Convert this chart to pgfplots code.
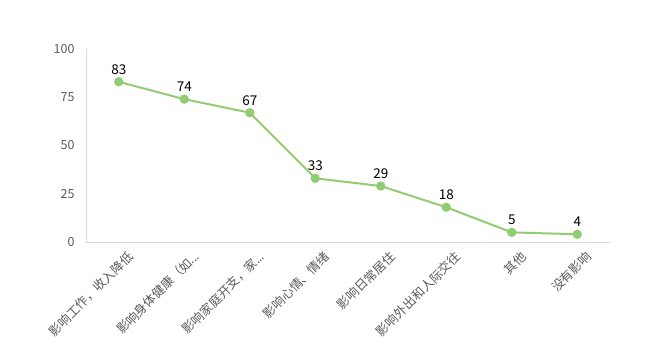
\documentclass[border=0pt]{standalone}
\usepackage{fontspec}
\setmainfont{Noto Sans CJK SC}
\usepackage{pgfplots}
\pgfplotsset{compat=1.18}
\definecolor{lineg}{HTML}{92CC72}
\definecolor{axisc}{HTML}{D9D9D9}
\definecolor{tickc}{HTML}{595959}
\begin{document}
\begin{tikzpicture}[x=1pt,y=1pt]
\useasboundingbox (0,0) rectangle (651,363);
\begin{axis}[
  at={(86pt,121pt)}, anchor=south west,
  scale only axis, width=524pt, height=193pt,
  xmin=-0.5, xmax=7.5, ymin=0, ymax=100,
  ytick={0,25,50,75,100},
  xtick={0,...,7},
  xticklabels={影响工作，收入降低,{影响身体健康（如.\kern-0.5pt.\kern-0.5pt.},{影响家庭开支，家.\kern-0.5pt.\kern-0.5pt.},影响心情、情绪,影响日常居住,影响外出和人际交往,其他,没有影响},
  axis x line*=bottom, axis y line*=left,
  x axis line style={-, color=axisc, line width=0.8pt},
  y axis line style={-, color=axisc, line width=0.8pt},
  major tick length=0pt,
  /pgf/number format/assume math mode=true,
  yticklabel style={color=tickc, font=\fontsize{12.5}{14}\selectfont, xshift=-8pt},
  xticklabel style={color=tickc, font=\fontsize{12.5}{14}\selectfont, rotate=45, anchor=north east, inner sep=1pt, xshift=1pt, yshift=-10pt},
  nodes near coords,
  every node near coord/.append style={black, font=\fontsize{13.5}{15}\selectfont, anchor=south, yshift=3pt},
]
\addplot[color=lineg, line width=2pt, mark=*, mark size=3.6pt, mark options={fill=lineg, draw=lineg}]
  coordinates {(0,83) (1,74) (2,67) (3,33) (4,29) (5,18) (6,5) (7,4)};
\end{axis}
\end{tikzpicture}
\end{document}
